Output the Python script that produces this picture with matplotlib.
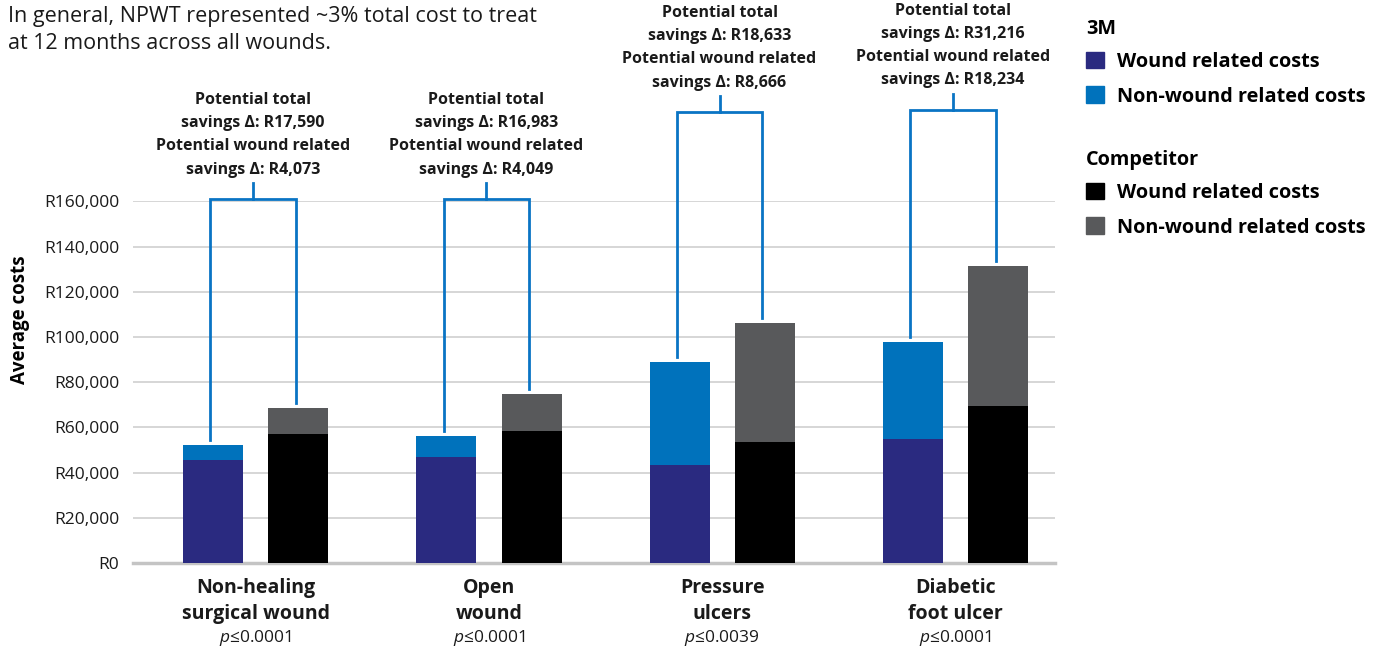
import matplotlib.pyplot as plt
import numpy as np
from matplotlib.patches import Patch
from matplotlib.ticker import FuncFormatter

plt.rcParams["font.family"] = ["Open Sans", "DejaVu Sans"]
plt.rcParams["mathtext.fontset"] = "custom"
plt.rcParams["mathtext.it"] = "Open Sans:italic"
plt.rcParams["mathtext.rm"] = "Open Sans"

# --- data ---
categories = ["Non-healing\nsurgical wound", "Open\nwound", "Pressure\nulcers", "Diabetic\nfoot ulcer"]
p_values = ["0.0001", "0.0001", "0.0039", "0.0001"]
mmm_wound = [45600, 46900, 43500, 55000]
mmm_total = [52300, 56200, 89100, 98000]
comp_wound = [57100, 58400, 53700, 69600]
comp_total = [68600, 74800, 106400, 131300]
total_savings = ["R17,590", "R16,983", "R18,633", "R31,216"]
wound_savings = ["R4,073", "R4,049", "R8,666", "R18,234"]
bracket_level = [161000, 161000, 199500, 200500]

C_3M_WOUND = "#2a2a80"
C_3M_OTHER = "#0072bc"
C_COMP_WOUND = "#000000"
C_COMP_OTHER = "#58595b"
C_BRACKET = "#0a74c4"

W, H = 1382, 648
fig = plt.figure(figsize=(W / 100, H / 100), dpi=100)
ax = fig.add_axes([133 / W, (H - 563) / H, 922 / W, 361.6 / H])

x = np.arange(len(categories))
off, bw = 0.183, 0.257
mmm_other = np.array(mmm_total) - np.array(mmm_wound)
comp_other = np.array(comp_total) - np.array(comp_wound)

ax.bar(x - off, mmm_wound, bw, color=C_3M_WOUND, zorder=3)
ax.bar(x - off, mmm_other, bw, bottom=mmm_wound, color=C_3M_OTHER, zorder=3)
ax.bar(x + off, comp_wound, bw, color=C_COMP_WOUND, zorder=3)
ax.bar(x + off, comp_other, bw, bottom=comp_wound, color=C_COMP_OTHER, zorder=3)

ax.set_xlim(-0.526, 3.426)
ax.set_ylim(0, 160000)
ax.set_yticks(np.arange(0, 160001, 20000))
ax.yaxis.set_major_formatter(FuncFormatter(lambda v, _: f"R{int(v):,}"))
ax.grid(axis="y", color="#d0d0d0", lw=1.2, zorder=0)
for s in ["top", "right", "left"]:
    ax.spines[s].set_visible(False)
ax.spines["bottom"].set_color("#c4c4c4")
ax.spines["bottom"].set_linewidth(2.5)
ax.tick_params(axis="both", length=0, labelsize=12.5, colors="#1a1a1a")
ax.tick_params(axis="y", pad=10)
ax.set_ylabel("Average costs", fontsize=13.5, fontweight="bold")
ax.yaxis.set_label_coords(-0.112, 0.672)

ax.set_xticks(x)
ax.set_xticklabels(categories, fontsize=14, fontweight="bold", linespacing=1.4)
ax.tick_params(axis="x", pad=11)
for xi, pv in zip(x, p_values):
    ax.text(xi, -0.207, r"$p$" + "≤" + pv, transform=ax.get_xaxis_transform(),
            ha="center", va="center", fontsize=12.5, color="#1a1a1a")

# brackets with savings annotations
gap = 2200
for xi, t3, tc, lvl, ts, ws in zip(x, mmm_total, comp_total, bracket_level,
                                    total_savings, wound_savings):
    xl, xr = xi - off - 0.012, xi + off - 0.012
    ax.plot([xl, xl, xr, xr], [t3 + gap, lvl, lvl, tc + gap],
            color=C_BRACKET, lw=2, clip_on=False, zorder=4, solid_joinstyle="miter")
    xm = (xl + xr) / 2
    ax.plot([xm, xm], [lvl, lvl + 7000], color=C_BRACKET, lw=2, clip_on=False, zorder=4)
    ax.text(xm, lvl + 9500,
            f"Potential total\nsavings Δ: {ts}\nPotential wound related\nsavings Δ: {ws}",
            ha="center", va="bottom", fontsize=11.5, fontweight="bold",
            linespacing=1.6, color="#1a1a1a")

fig.text(8 / W, 1 - 6 / H, "In general, NPWT represented ~3% total cost to treat\nat 12 months across all wounds.",
         ha="left", va="top", fontsize=15.5, linespacing=1.4, color="#1a1a1a")

# legends
bold = {"weight": "bold", "size": 14.3}
leg_kw = dict(loc="upper left", frameon=False, alignment="left", prop=bold,
              title_fontproperties=bold, handlelength=0.9, handleheight=0.9,
              handletextpad=0.65, labelspacing=0.75, borderpad=0, borderaxespad=0)
leg1 = fig.legend(handles=[Patch(color=C_3M_WOUND, label="Wound related costs"),
                           Patch(color=C_3M_OTHER, label="Non-wound related costs")],
                  title="3M", bbox_to_anchor=(1086 / W, 1 - 19 / H), **leg_kw)
leg2 = fig.legend(handles=[Patch(color=C_COMP_WOUND, label="Wound related costs"),
                           Patch(color=C_COMP_OTHER, label="Non-wound related costs")],
                  title="Competitor", bbox_to_anchor=(1086 / W, 1 - 150 / H), **leg_kw)
for leg in (leg1, leg2):
    leg._legend_box.sep = 9

fig.savefig("out.png", dpi=100)
